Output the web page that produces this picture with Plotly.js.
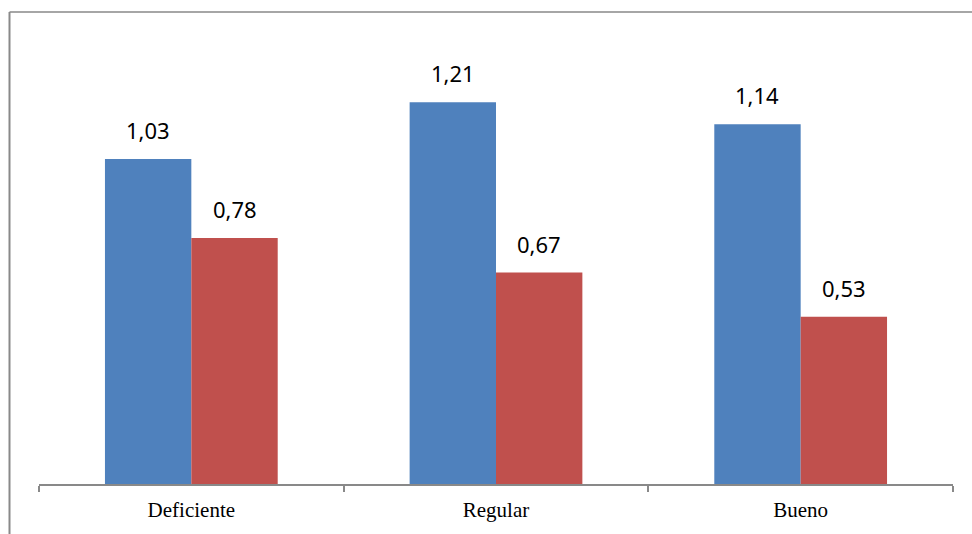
<!DOCTYPE html>
<html>
<head>
<meta charset="utf-8">
<script src="https://cdn.plot.ly/plotly-3.0.1.min.js"></script>
<style>
  html, body { margin: 0; padding: 0; background: #ffffff; }
  #chart { width: 972px; height: 534px; }
</style>
</head>
<body>
<div id="chart"></div>
<script>
// Categories and the two series drawn for each
const categories = ["Deficiente", "Regular", "Bueno"];
const serieAzul = [1.03, 1.21, 1.14];
const serieRoja = [0.78, 0.67, 0.53];
const etiquetasAzul = ["1,03", "1,21", "1,14"];
const etiquetasRoja = ["0,78", "0,67", "0,53"];

const W = 972, H = 534, plotH = 484;
const azul = "#4F81BD", rojo = "#C0504D", gris = "#898989";

const traces = [
  { type: "bar", x: categories, y: serieAzul, marker: { color: azul }, hoverinfo: "skip", showlegend: false },
  { type: "bar", x: categories, y: serieRoja, marker: { color: rojo }, hoverinfo: "skip", showlegend: false }
];

// Value labels above each bar, offset to sit over its own bar in the group
const annotations = [];
const halfBar = 43.3;
categories.forEach((c, i) => {
  annotations.push({ x: c, y: serieAzul[i], text: etiquetasAzul[i], xref: "x", yref: "y",
    xshift: -halfBar, yshift: 12, yanchor: "bottom", showarrow: false,
    font: { family: "Noto Sans", size: 22, color: "#000000" } });
  annotations.push({ x: c, y: serieRoja[i], text: etiquetasRoja[i], xref: "x", yref: "y",
    xshift: halfBar, yshift: 12, yanchor: "bottom", showarrow: false,
    font: { family: "Noto Sans", size: 22, color: "#000000" } });
});

// Outer frame (top and left edges)
const fx = 9.5 / W, fy = 1 - 12 / plotH;
const shapes = [
  { type: "line", xref: "paper", yref: "paper", x0: fx, x1: 1.01, y0: fy, y1: fy, line: { color: gris, width: 1.5 } },
  { type: "line", xref: "paper", yref: "paper", x0: fx, x1: fx, y0: fy, y1: -60 / plotH, line: { color: gris, width: 2 } }
];

const layout = {
  width: W, height: H,
  margin: { l: 0, r: 0, t: 0, b: H - plotH, pad: 0 },
  paper_bgcolor: "#ffffff", plot_bgcolor: "#ffffff",
  barmode: "group", bargap: 0.433, bargroupgap: 0,
  showlegend: false,
  xaxis: {
    domain: [39 / W, 953 / W],
    showline: true, linecolor: gris, linewidth: 2,
    ticks: "outside", ticklen: 6, tickwidth: 2, tickcolor: gris,
    tickson: "boundaries", ticklabelstandoff: 6,
    tickfont: { family: "Liberation Serif", size: 21, color: "#000000" },
    showgrid: false, zeroline: false, fixedrange: true
  },
  yaxis: {
    range: [0, plotH / 315.5],
    visible: false, showgrid: false, zeroline: false, fixedrange: true
  },
  annotations: annotations,
  shapes: shapes
};

Plotly.newPlot("chart", traces, layout, { displayModeBar: false, staticPlot: true });
</script>
</body>
</html>
